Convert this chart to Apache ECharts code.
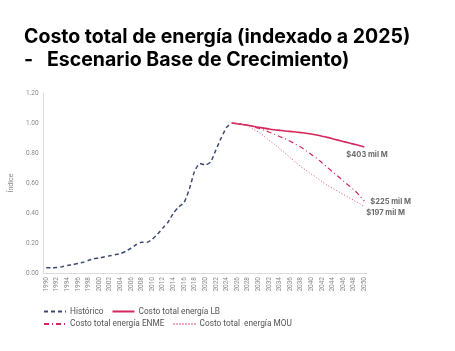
<!DOCTYPE html>
<html>
<head>
    <meta charset="utf-8">
    <title>Costo total de energía</title>
    <script src="https://cdn.jsdelivr.net/npm/echarts@6/dist/echarts.min.js"></script>
    <style>
        html, body { margin: 0; padding: 0; background: #fff; }
        #main { width: 455px; height: 351px; }
    </style>
</head>
<body>
<div id="main"></div>
<script type="text/javascript">
    // años 1990 - 2050
    var years = ['1990','1991','1992','1993','1994','1995','1996','1997','1998','1999',
        '2000','2001','2002','2003','2004','2005','2006','2007','2008','2009',
        '2010','2011','2012','2013','2014','2015','2016','2017','2018','2019',
        '2020','2021','2022','2023','2024','2025','2026','2027','2028','2029',
        '2030','2031','2032','2033','2034','2035','2036','2037','2038','2039',
        '2040','2041','2042','2043','2044','2045','2046','2047','2048','2049','2050'];

    // histórico 1990 - 2025
    var historico = [0.035,0.035,0.036,0.042,0.050,0.056,0.063,0.072,0.085,0.095,
        0.100,0.108,0.115,0.122,0.130,0.145,0.165,0.190,0.205,0.205,
        0.225,0.260,0.300,0.340,0.400,0.440,0.470,0.560,0.680,0.730,
        0.720,0.740,0.820,0.900,0.970,1.000];

    // proyecciones 2025 - 2050
    var costoLB = [1.000,0.995,0.990,0.985,0.978,0.972,0.966,0.960,0.955,0.951,
        0.947,0.944,0.940,0.936,0.932,0.927,0.920,0.912,0.904,0.895,
        0.886,0.877,0.868,0.859,0.850,0.840];
    var costoENME = [1.000,0.998,0.993,0.985,0.975,0.965,0.953,0.940,0.925,0.910,
        0.895,0.878,0.860,0.840,0.815,0.790,0.765,0.735,0.705,0.675,
        0.645,0.615,0.585,0.555,0.520,0.480];
    var costoMOU = [1.000,0.997,0.990,0.980,0.960,0.940,0.915,0.885,0.860,0.830,
        0.800,0.770,0.740,0.710,0.685,0.660,0.635,0.610,0.585,0.565,
        0.545,0.525,0.505,0.485,0.465,0.440];

    var etiquetas = ['$403 mil M', '$225 mil M', '$197 mil M'];

    function rellenar(arr, antes, total) {
        var out = [];
        for (var i = 0; i < antes; i++) out.push(null);
        out = out.concat(arr);
        while (out.length < total) out.push(null);
        return out;
    }

    var n = years.length;
    var inicioProy = years.indexOf('2025');
    var rojo = '#d3285c';
    var etiquetaStyle = { show: true, color: '#6b6b6b', fontSize: 7.5, fontWeight: 'bold',
        fontFamily: 'Inter', align: 'left', verticalAlign: 'middle' };

    // leyenda: dos filas
    var leyendaBase = {
        left: 43,
        padding: 0,
        itemWidth: 22,
        itemHeight: 8,
        itemGap: 8,
        itemStyle: { opacity: 0 },
        textStyle: { fontFamily: 'Roboto', fontSize: 8.3, color: '#555', padding: [0, 0, 0, -1] }
    };

    var myChart = echarts.init(document.getElementById('main'));
    var option = {
        backgroundColor: '#fff',
        animation: false,
        title: {
            text: 'Costo total de energía (indexado a 2025)\n-   Escenario Base de Crecimiento)',
            left: 19,
            top: 21,
            textStyle: { fontFamily: 'Inter', fontWeight: 'bold', fontSize: 19.5, lineHeight: 23, color: '#000' }
        },
        legend: [
            Object.assign({ top: 307.5, data: ['Histórico', 'Costo total energía LB'] }, leyendaBase),
            Object.assign({ top: 320, data: ['Costo total energía ENME', 'Costo total  energía MOU'] }, leyendaBase)
        ],
        grid: { left: 38, right: 88, top: 93, bottom: 78 },
        xAxis: {
            type: 'category',
            data: years,
            boundaryGap: true,
            axisLine: { lineStyle: { color: '#dcdcdc' } },
            axisTick: { show: false },
            axisLabel: { interval: 1, rotate: 90, fontSize: 6.5, color: '#8a8a8a', margin: 4, fontFamily: 'Roboto' }
        },
        yAxis: {
            type: 'value',
            min: 0,
            max: 1.2,
            interval: 0.2,
            name: 'Índice',
            nameLocation: 'middle',
            nameRotate: 90,
            nameGap: 26,
            nameTextStyle: { fontSize: 7, color: '#8a8a8a', fontFamily: 'Roboto' },
            axisLine: { show: true, lineStyle: { color: '#dcdcdc' } },
            axisTick: { show: false },
            splitLine: { show: false },
            axisLabel: {
                fontSize: 6.5, color: '#8a8a8a', margin: 5, fontFamily: 'Roboto',
                formatter: function (v) { return v.toFixed(2); }
            }
        },
        series: [
            {
                name: 'Histórico',
                type: 'line',
                symbol: 'none',
                smooth: 0.2,
                data: rellenar(historico, 0, n),
                lineStyle: { color: '#3d4a72', width: 1.5, type: [4, 3] },
                itemStyle: { color: '#3d4a72' }
            },
            {
                name: 'Costo total energía LB',
                type: 'line',
                symbol: 'none',
                smooth: 0.3,
                data: rellenar(costoLB, inicioProy, n),
                lineStyle: { color: rojo, width: 1.6 },
                itemStyle: { color: rojo },
                endLabel: Object.assign({ formatter: etiquetas[0], offset: [-26, 8] }, etiquetaStyle)
            },
            {
                name: 'Costo total energía ENME',
                type: 'line',
                symbol: 'none',
                smooth: 0.3,
                data: rellenar(costoENME, inicioProy, n),
                lineStyle: { color: rojo, width: 1.2, type: [5, 3, 1, 3] },
                itemStyle: { color: rojo },
                endLabel: Object.assign({ formatter: etiquetas[1], offset: [-2, 1] }, etiquetaStyle)
            },
            {
                name: 'Costo total  energía MOU',
                type: 'line',
                symbol: 'none',
                smooth: 0.3,
                data: rellenar(costoMOU, inicioProy, n),
                lineStyle: { color: '#d9557e', width: 1, type: [1, 2] },
                itemStyle: { color: '#d9557e' },
                endLabel: Object.assign({ formatter: etiquetas[2], offset: [-6, 6] }, etiquetaStyle)
            }
        ]
    };
    myChart.setOption(option);
</script>
</body>
</html>
